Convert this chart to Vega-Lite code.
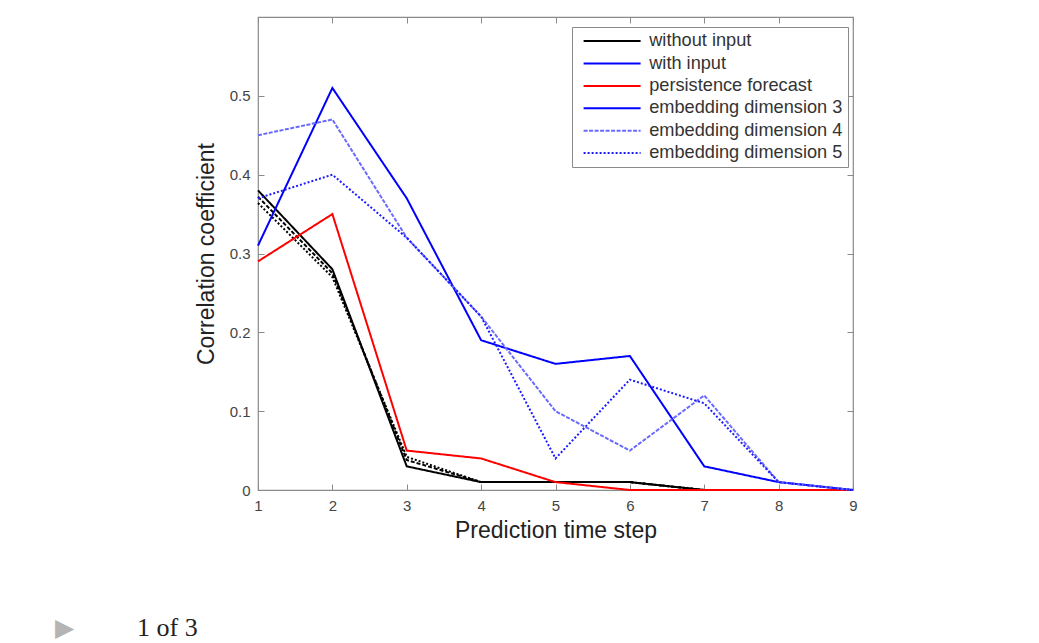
{
  "$schema": "https://vega.github.io/schema/vega-lite/v6.json",
  "autosize": {"type": "none"},
  "padding": {"left": 258, "top": 17, "right": 186, "bottom": 153},
  "width": 595,
  "height": 473,
  "background": "white",
  "title": {
    "text": "1 of 3",
    "orient": "bottom",
    "anchor": "start",
    "frame": "group",
    "dx": -121,
    "offset": -25,
    "font": "Liberation Serif",
    "fontSize": 26,
    "fontWeight": "normal",
    "color": "#222222"
  },
  "config": {
    "view": {"stroke": "#8a8a8a", "strokeWidth": 1.2},
    "font": "Liberation Sans",
    "axis": {
      "domain": false,
      "grid": false,
      "tickColor": "#8a8a8a",
      "tickSize": -6,
      "labelFlush": false,
      "labelFont": "Liberation Sans",
      "labelFontSize": 15,
      "labelColor": "#444444",
      "titleFont": "Liberation Sans",
      "titleFontSize": 23,
      "titleFontWeight": "normal",
      "titleColor": "#222222"
    }
  },
  "data": {
    "values": [
      {"series": "w3", "label": "without input", "x": 1, "y": 0.38},
      {"series": "w3", "label": "without input", "x": 2, "y": 0.28},
      {"series": "w3", "label": "without input", "x": 3, "y": 0.03},
      {"series": "w3", "label": "without input", "x": 4, "y": 0.01},
      {"series": "w3", "label": "without input", "x": 5, "y": 0.01},
      {"series": "w3", "label": "without input", "x": 6, "y": 0.01},
      {"series": "w3", "label": "without input", "x": 7, "y": 0},
      {"series": "w3", "label": "without input", "x": 8, "y": 0},
      {"series": "w3", "label": "without input", "x": 9, "y": 0},
      {"series": "w4", "label": "without input dashed", "x": 1, "y": 0.372},
      {"series": "w4", "label": "without input dashed", "x": 2, "y": 0.275},
      {"series": "w4", "label": "without input dashed", "x": 3, "y": 0.038},
      {"series": "w4", "label": "without input dashed", "x": 4, "y": 0.01},
      {"series": "w4", "label": "without input dashed", "x": 5, "y": 0.01},
      {"series": "w4", "label": "without input dashed", "x": 6, "y": 0.01},
      {"series": "w4", "label": "without input dashed", "x": 7, "y": 0},
      {"series": "w4", "label": "without input dashed", "x": 8, "y": 0},
      {"series": "w4", "label": "without input dashed", "x": 9, "y": 0},
      {"series": "w5", "label": "without input dotted", "x": 1, "y": 0.364},
      {"series": "w5", "label": "without input dotted", "x": 2, "y": 0.27},
      {"series": "w5", "label": "without input dotted", "x": 3, "y": 0.042},
      {"series": "w5", "label": "without input dotted", "x": 4, "y": 0.01},
      {"series": "w5", "label": "without input dotted", "x": 5, "y": 0.01},
      {"series": "w5", "label": "without input dotted", "x": 6, "y": 0.01},
      {"series": "w5", "label": "without input dotted", "x": 7, "y": 0},
      {"series": "w5", "label": "without input dotted", "x": 8, "y": 0},
      {"series": "w5", "label": "without input dotted", "x": 9, "y": 0},
      {"series": "p", "label": "persistence forecast", "x": 1, "y": 0.29},
      {"series": "p", "label": "persistence forecast", "x": 2, "y": 0.35},
      {"series": "p", "label": "persistence forecast", "x": 3, "y": 0.05},
      {"series": "p", "label": "persistence forecast", "x": 4, "y": 0.04},
      {"series": "p", "label": "persistence forecast", "x": 5, "y": 0.01},
      {"series": "p", "label": "persistence forecast", "x": 6, "y": 0},
      {"series": "p", "label": "persistence forecast", "x": 7, "y": 0},
      {"series": "p", "label": "persistence forecast", "x": 8, "y": 0},
      {"series": "p", "label": "persistence forecast", "x": 9, "y": 0},
      {"series": "e3", "label": "embedding dimension 3", "x": 1, "y": 0.31},
      {"series": "e3", "label": "embedding dimension 3", "x": 2, "y": 0.51},
      {"series": "e3", "label": "embedding dimension 3", "x": 3, "y": 0.37},
      {"series": "e3", "label": "embedding dimension 3", "x": 4, "y": 0.19},
      {"series": "e3", "label": "embedding dimension 3", "x": 5, "y": 0.16},
      {"series": "e3", "label": "embedding dimension 3", "x": 6, "y": 0.17},
      {"series": "e3", "label": "embedding dimension 3", "x": 7, "y": 0.03},
      {"series": "e3", "label": "embedding dimension 3", "x": 8, "y": 0.01},
      {"series": "e3", "label": "embedding dimension 3", "x": 9, "y": 0},
      {"series": "e4", "label": "embedding dimension 4", "x": 1, "y": 0.45},
      {"series": "e4", "label": "embedding dimension 4", "x": 2, "y": 0.47},
      {"series": "e4", "label": "embedding dimension 4", "x": 3, "y": 0.32},
      {"series": "e4", "label": "embedding dimension 4", "x": 4, "y": 0.22},
      {"series": "e4", "label": "embedding dimension 4", "x": 5, "y": 0.10},
      {"series": "e4", "label": "embedding dimension 4", "x": 6, "y": 0.05},
      {"series": "e4", "label": "embedding dimension 4", "x": 7, "y": 0.12},
      {"series": "e4", "label": "embedding dimension 4", "x": 8, "y": 0.01},
      {"series": "e4", "label": "embedding dimension 4", "x": 9, "y": 0},
      {"series": "e5", "label": "embedding dimension 5", "x": 1, "y": 0.37},
      {"series": "e5", "label": "embedding dimension 5", "x": 2, "y": 0.40},
      {"series": "e5", "label": "embedding dimension 5", "x": 3, "y": 0.32},
      {"series": "e5", "label": "embedding dimension 5", "x": 4, "y": 0.22},
      {"series": "e5", "label": "embedding dimension 5", "x": 5, "y": 0.04},
      {"series": "e5", "label": "embedding dimension 5", "x": 6, "y": 0.14},
      {"series": "e5", "label": "embedding dimension 5", "x": 7, "y": 0.11},
      {"series": "e5", "label": "embedding dimension 5", "x": 8, "y": 0.01},
      {"series": "e5", "label": "embedding dimension 5", "x": 9, "y": 0}
    ]
  },
  "resolve": {"axis": {"x": "independent", "y": "independent"}},
  "layer": [
    {
      "transform": [{"filter": "datum.series == 'w4'"}],
      "mark": {"type": "line", "color": "#000000", "strokeWidth": 2, "strokeDash": [4, 2]},
      "encoding": {
        "x": {"field": "x", "type": "quantitative", "scale": {"domain": [1, 9], "nice": false},
          "axis": {"orient": "top", "labels": false, "title": null, "values": [1,2,3,4,5,6,7,8,9]}},
        "y": {"field": "y", "type": "quantitative", "scale": {"domain": [0, 0.6], "nice": false},
          "axis": {"orient": "right", "labels": false, "values": [0,0.1,0.2,0.3,0.4,0.5],
            "title": "▶", "titleAngle": 0, "titleX": -789, "titleY": 610, "titleAlign": "center", "titleBaseline": "middle",
            "titleColor": "#b4b4b4", "titleFont": "DejaVu Sans", "titleFontSize": 25}}
      }
    },
    {
      "transform": [{"filter": "datum.series == 'w5'"}],
      "mark": {"type": "line", "color": "#000000", "strokeWidth": 2, "strokeDash": [2, 2]},
      "encoding": {
        "x": {"field": "x", "type": "quantitative", "axis": null},
        "y": {"field": "y", "type": "quantitative", "axis": null}
      }
    },
    {
      "transform": [{"filter": "datum.series != 'w4' && datum.series != 'w5'"}],
      "mark": {"type": "line", "strokeWidth": 2},
      "encoding": {
        "x": {"field": "x", "type": "quantitative",
          "axis": {"values": [1,2,3,4,5,6,7,8,9], "title": "Prediction time step", "labelPadding": 14, "titlePadding": 6}},
        "y": {"field": "y", "type": "quantitative",
          "axis": {"values": [0,0.1,0.2,0.3,0.4,0.5], "format": ".1~f", "title": "Correlation coefficient", "labelPadding": 14, "titlePadding": 11}},
        "color": {"field": "label", "type": "nominal",
          "scale": {
            "domain": ["without input", "with input", "persistence forecast", "embedding dimension 3", "embedding dimension 4", "embedding dimension 5"],
            "range": ["#000000", "#0000ff", "#ff0000", "#0000ff", "#6a6aff", "#1c1cff"]
          },
          "legend": {
            "title": null, "orient": "none", "legendX": 314, "legendY": 10,
            "strokeColor": "#8a8a8a", "fillColor": "white", "padding": 5,
            "symbolType": "M-5.7,0H5.7", "symbolSize": 100, "symbolStrokeWidth": 2, "symbolOffset": 26,
            "labelOffset": 28, "labelLimit": 400, "labelFont": "Liberation Sans", "labelFontSize": 18.2, "labelColor": "#333333",
            "rowPadding": 3.4
          }
        },
        "strokeDash": {"field": "label", "type": "nominal",
          "scale": {
            "domain": ["without input", "with input", "persistence forecast", "embedding dimension 3", "embedding dimension 4", "embedding dimension 5"],
            "range": [[1, 0], [1, 0], [1, 0], [1, 0], [4, 1.5], [2, 2]]
          },
          "legend": null
        }
      }
    }
  ]
}
